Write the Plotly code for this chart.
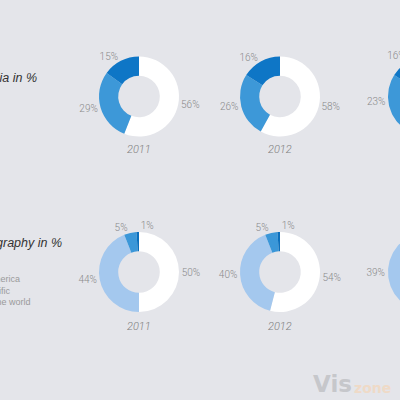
import math
import plotly.graph_objects as go

# ---------------- data ----------------
years = ["2011", "2012", "2013"]

media_labels = ["Print", "Online", "Mobile"]
media_2011 = [56, 29, 15]
media_2012 = [58, 26, 16]
media_2013 = [61, 23, 16]

geo_labels = ["Europe", "North America", "Asia-Pacific", "Rest of the world"]
geo_2011 = [50, 44, 5, 1]
geo_2012 = [54, 40, 5, 1]
geo_2013 = [55, 39, 5, 1]

title_media = "Revenue by media in %"
title_geo = "Revenue by geography in %"

# ---------------- style ----------------
W, H = 400, 400
BG = "#e4e5ea"
media_colors = ["#ffffff", "#3d98d8", "#0e76c6"]
geo_colors = ["#ffffff", "#a4c8ee", "#3b97d8", "#0b6fbc"]
media_label_flip = [False, False, False]
geo_label_flip = [False, False, False, True]   # tiny last slice label set to the right
col_x = [139, 280, 428]     # pixel centres of columns
row_y = [96.5, 272]         # pixel centres of rows
R = 40
HOLE = 0.52
LBL_FONT = dict(family="Roboto", size=10, color="#8a8a8a", weight=300)


def px_x(p):
    return p / W


def px_y(p):
    return 1 - p / H


def label_center(cx, cy, mid_deg, text, flip):
    """Outside-label placement (same rule plotly uses for pie outside text)."""
    a = math.radians(mid_deg)
    x = R * math.sin(a)
    y = -R * math.cos(a)
    w = 5.6 * (len(text) - 1) + 7.3
    h = 12
    dx = w / 2 if x >= 0 else -w / 2
    if flip:
        dx = -dx
    dy = h / 2 if y >= 0 else -h / 2
    tx = dx + abs(dy) * (1 if dx > 0 else -1) / 2
    ty = dy / (1 + x * x / (y * y)) if y != 0 else 0
    return cx + x + tx, cy + y + ty


fig = go.Figure()

rows = [
    (media_labels, [media_2011, media_2012, media_2013], media_colors, media_label_flip),
    (geo_labels, [geo_2011, geo_2012, geo_2013], geo_colors, geo_label_flip),
]

txt_x, txt_y, txt_s = [], [], []

for ri, (labels, series, colors, flips) in enumerate(rows):
    cy = row_y[ri]
    for ci, vals in enumerate(series):
        cx = col_x[ci]
        total = float(sum(vals))
        if cx + R <= W:
            # fully visible column: native pie trace
            tpos = ["none" if f else "outside" for f in flips]
            fig.add_trace(go.Pie(
                labels=labels, values=vals, sort=False, direction="clockwise", rotation=0,
                hole=HOLE,
                marker=dict(colors=colors, line=dict(width=0)),
                textposition=tpos, texttemplate="%{value}%",
                textfont=LBL_FONT, outsidetextfont=LBL_FONT,
                showlegend=False, hoverinfo="skip",
                domain=dict(x=[(cx - R) / W, (cx + R) / W],
                            y=[(H - cy - R) / H, (H - cy + R) / H]),
            ))
            cum = 0.0
            for v, f in zip(vals, flips):
                if f:
                    mid = (cum + v / 2) / total * 360
                    t = f"{v}%"
                    lx, ly = label_center(cx, cy, mid, t, True)
                    txt_x.append(lx); txt_y.append(ly); txt_s.append(t)
                cum += v
        else:
            # column running off the right edge: ring segments on the pixel axes
            cum = 0.0
            for v, col, f in zip(vals, colors, flips):
                a0 = cum / total * 360
                a1 = (cum + v) / total * 360
                n = max(4, int(v * 2))
                angs = [a0 + (a1 - a0) * k / n for k in range(n + 1)]
                xs = [cx + R * math.sin(math.radians(a)) for a in angs]
                ys = [cy - R * math.cos(math.radians(a)) for a in angs]
                xs += [cx + R * HOLE * math.sin(math.radians(a)) for a in reversed(angs)]
                ys += [cy - R * HOLE * math.cos(math.radians(a)) for a in reversed(angs)]
                fig.add_trace(go.Scatter(
                    x=xs, y=ys, mode="lines", fill="toself", fillcolor=col,
                    line=dict(width=0, color=col), showlegend=False, hoverinfo="skip",
                ))
                t = f"{v}%"
                lx, ly = label_center(cx, cy, (a0 + a1) / 2, t, f)
                txt_x.append(lx); txt_y.append(ly); txt_s.append(t)
                cum += v

fig.add_trace(go.Scatter(
    x=txt_x, y=txt_y, text=txt_s, mode="text", textposition="middle center",
    textfont=LBL_FONT, showlegend=False, hoverinfo="skip", cliponaxis=True,
))

annotations = []
# year captions
for yy in [149, 326]:
    for ci, yr in enumerate(years):
        annotations.append(dict(
            x=px_x(col_x[ci]), y=px_y(yy), xref="paper", yref="paper",
            text=f"<i>{yr}</i>", showarrow=False, xanchor="center", yanchor="middle",
            font=dict(family="Roboto", size=11, color="#808080", weight=300),
        ))

# section titles (cropped on the left)
annotations.append(dict(
    x=px_x(39), y=px_y(78), xref="paper", yref="paper", text=f"<i>{title_media}</i>",
    showarrow=False, xanchor="right", yanchor="middle",
    font=dict(family="Liberation Sans", size=12.5, color="#333333"),
))
annotations.append(dict(
    x=px_x(64), y=px_y(243), xref="paper", yref="paper", text=f"<i>{title_geo}</i>",
    showarrow=False, xanchor="right", yanchor="middle",
    font=dict(family="Liberation Sans", size=12.5, color="#333333"),
))

# geography legend (cropped on the left)
for i, lab in enumerate(geo_labels):
    annotations.append(dict(
        x=px_x(-39), y=px_y(267.5 + 11.6 * i), xref="paper", yref="paper", text=lab,
        showarrow=False, xanchor="left", yanchor="middle",
        font=dict(family="Liberation Sans", size=9, color="#9a9a9a"),
    ))

# watermark
annotations.append(dict(
    x=px_x(311), y=px_y(384), xref="paper", yref="paper", text="<b>Vis</b>",
    showarrow=False, xanchor="left", yanchor="middle",
    font=dict(family="DejaVu Sans", size=23, color="#c6c7cb"),
))
annotations.append(dict(
    x=px_x(352), y=px_y(388), xref="paper", yref="paper", text="<b>zone</b>",
    showarrow=False, xanchor="left", yanchor="middle",
    font=dict(family="DejaVu Sans", size=14, color="#efdac7"),
))

fig.update_layout(
    width=W, height=H,
    margin=dict(l=0, r=0, t=0, b=0),
    paper_bgcolor=BG, plot_bgcolor=BG,
    xaxis=dict(range=[0, W], visible=False, fixedrange=True),
    yaxis=dict(range=[H, 0], visible=False, fixedrange=True),
    annotations=annotations,
)

fig.write_html(
    "out.html",
    config={"displayModeBar": False, "staticPlot": True},
    post_script="document.body.style.margin='0';"
                "document.body.style.overflow='hidden';"
                "document.documentElement.style.overflow='hidden';"
                "document.body.style.background='" + BG + "';",
)
